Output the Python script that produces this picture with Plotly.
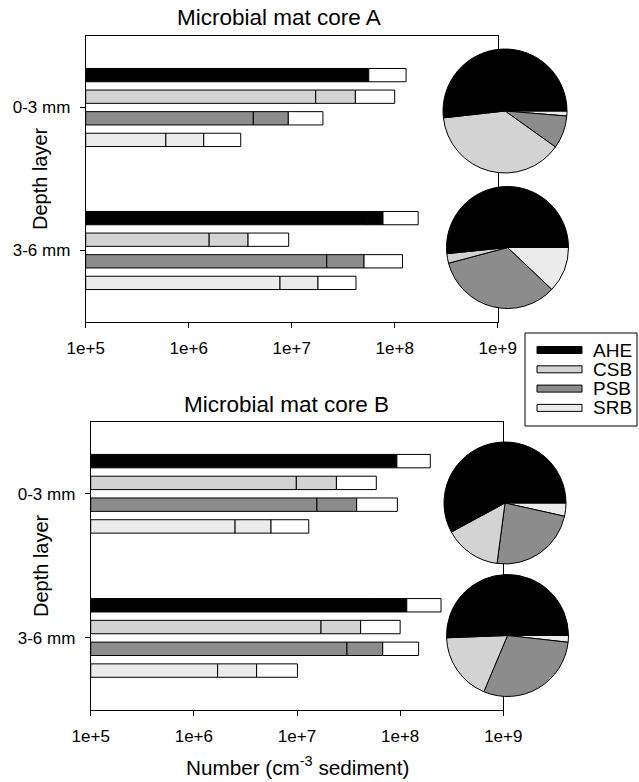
import plotly.graph_objects as go

W, H = 639, 782

# ---------------- data ----------------
depths = ["0-3 mm", "3-6 mm"]
groups = ["AHE", "CSB", "PSB", "SRB"]
colors = ["#000000", "#d3d3d3", "#8c8c8c", "#ebebeb"]
xtick_vals = [1e5, 1e6, 1e7, 1e8, 1e9]
xtick_text = ["1e+5", "1e+6", "1e+7", "1e+8", "1e+9"]

# per depth: [AHE, CSB, PSB, SRB]
core_a_low = [[2.5e7, 1.71e7, 4.24e6, 6.0e5], [5.4e7, 1.58e6, 2.19e7, 7.7e6]]
core_a_mid = [[5.6e7, 4.15e7, 9.27e6, 1.40e6], [7.7e7, 3.77e6, 5.04e7, 1.80e7]]
core_a_high = [[1.29e8, 1.0e8, 2.01e7, 3.2e6], [1.69e8, 9.35e6, 1.19e8, 4.21e7]]

core_b_low = [[4.24e7, 9.85e6, 1.56e7, 2.51e6], [5.3e7, 1.71e7, 3.05e7, 1.70e6]]
core_b_mid = [[9.3e7, 2.41e7, 3.79e7, 5.6e6], [1.16e8, 4.14e7, 6.78e7, 4.06e6]]
core_b_high = [[1.96e8, 5.87e7, 9.4e7, 1.30e7], [2.49e8, 1.0e8, 1.51e8, 1.01e7]]

titles = ["Microbial mat core A", "Microbial mat core B"]
ytitle = "Depth layer"
xtitle = "Number (cm<sup>-3</sup> sediment)"

# ---------------- helpers ----------------
def px_x(x):
    return x / W

def px_y(y):
    return 1 - y / H

FONT = "Liberation Sans, Arial, sans-serif"
BAR_STEP = 0.151
BAR_W = 0.093
AX_MIN = 1e5

fig = go.Figure()

cores = [(core_a_low, core_a_mid, core_a_high, "x", "y"),
         (core_b_low, core_b_mid, core_b_high, "x2", "y2")]

for low, mid, high, xa, ya in cores:
    ys, c_fill = [], []
    s1_base, s1_len, s2_base, s2_len, s3_base, s3_len = [], [], [], [], [], []
    for d in range(len(depths)):
        for k in range(len(groups)):
            ys.append(d + (k - 1.5) * BAR_STEP)
            c_fill.append(colors[k])
            s1_base.append(AX_MIN)
            s1_len.append(low[d][k] - AX_MIN)
            s2_base.append(low[d][k])
            s2_len.append(mid[d][k] - low[d][k])
            s3_base.append(mid[d][k])
            s3_len.append(high[d][k] - mid[d][k])
    for base, length, col in [(s1_base, s1_len, c_fill),
                              (s2_base, s2_len, c_fill),
                              (s3_base, s3_len, ["#ffffff"] * len(ys))]:
        fig.add_trace(go.Bar(
            orientation="h", y=ys, x=length, base=base, width=BAR_W,
            marker=dict(color=col, line=dict(color="#000000", width=1)),
            xaxis=xa, yaxis=ya, showlegend=False, hoverinfo="skip"))

# pies (values = middle estimates); drawn clockwise from 3 o'clock in reverse order,
# which puts AHE counter-clockwise from 3 o'clock as in the reference
pie_boxes = [  # (cx, cy, r) in px
    (505, 111, 62), (507.5, 247.5, 61),
    (505, 503, 61), (507.5, 635.5, 61)]
pie_vals = [core_a_mid[0], core_a_mid[1], core_b_mid[0], core_b_mid[1]]
for (cx, cy, r), vals in zip(pie_boxes, pie_vals):
    fig.add_trace(go.Pie(
        values=vals[::-1], labels=groups[::-1], sort=False, direction="clockwise",
        rotation=90, textinfo="none", hoverinfo="label+value",
        marker=dict(colors=colors[::-1], line=dict(color="#000000", width=1)),
        domain=dict(x=[px_x(cx - r), px_x(cx + r)], y=[px_y(cy + r), px_y(cy - r)]),
        showlegend=False))

axis_common = dict(showline=True, mirror=True, linecolor="#000000", linewidth=1,
                   ticks="outside", ticklen=5, tickcolor="#000000", showgrid=False,
                   zeroline=False, automargin=False,
                   tickfont=dict(family=FONT, size=17, color="#000000"))

xa_common = dict(axis_common, type="log", range=[5, 9], tickvals=xtick_vals,
                 ticktext=xtick_text, ticklabelstandoff=6)
ya_common = dict(axis_common, range=[1.5, -0.5], tickvals=[0, 1], ticktext=depths,
                 ticklabelstandoff=6)

fig.update_layout(
    template="none",
    width=W, height=H, margin=dict(l=0, r=0, t=0, b=0, pad=0), autosize=False,
    paper_bgcolor="#ffffff", plot_bgcolor="#ffffff",
    barmode="overlay", showlegend=False,
    font=dict(family=FONT, color="#000000"),
    xaxis=dict(xa_common, domain=[px_x(85.7), px_x(497.7)], anchor="y"),
    yaxis=dict(ya_common, domain=[px_y(322), px_y(36)], anchor="x"),
    xaxis2=dict(xa_common, domain=[px_x(90.7), px_x(503.3)], anchor="y2"),
    yaxis2=dict(ya_common, domain=[px_y(710), px_y(421.7)], anchor="x2"),
)

ann = []
ann.append(dict(text=titles[0], x=px_x(279), y=px_y(18)))
ann.append(dict(text=titles[1], x=px_x(286), y=px_y(404)))
for a in ann:
    a.update(font=dict(size=22.5, family=FONT, color="#000000"))
ann.append(dict(text=ytitle, x=px_x(40), y=px_y(179), textangle=-90,
                font=dict(size=20, family=FONT, color="#000000")))
ann.append(dict(text=ytitle, x=px_x(41), y=px_y(566), textangle=-90,
                font=dict(size=20, family=FONT, color="#000000")))
ann.append(dict(text=xtitle, x=px_x(297), y=px_y(766),
                font=dict(size=20.7, family=FONT, color="#000000")))

# manual legend
shapes = [dict(type="rect", xref="paper", yref="paper",
               x0=px_x(525), x1=px_x(637), y0=px_y(426), y1=px_y(333),
               line=dict(color="#000000", width=1), fillcolor="#ffffff", layer="above")]
for i, (g, c) in enumerate(zip(groups, colors)):
    cy = 350 + i * 19.3
    shapes.append(dict(type="rect", xref="paper", yref="paper",
                       x0=px_x(537), x1=px_x(582), y0=px_y(cy + 3.5), y1=px_y(cy - 3.5),
                       line=dict(color="#000000", width=1), fillcolor=c, layer="above"))
    ann.append(dict(text=g, x=px_x(591), y=px_y(cy), xanchor="left",
                    font=dict(size=19, family=FONT, color="#000000")))

for a in ann:
    a.setdefault("xanchor", "center")
    a.update(xref="paper", yref="paper", yanchor="middle", showarrow=False)

fig.update_layout(annotations=ann, shapes=shapes)

fig.write_html("out.html")
